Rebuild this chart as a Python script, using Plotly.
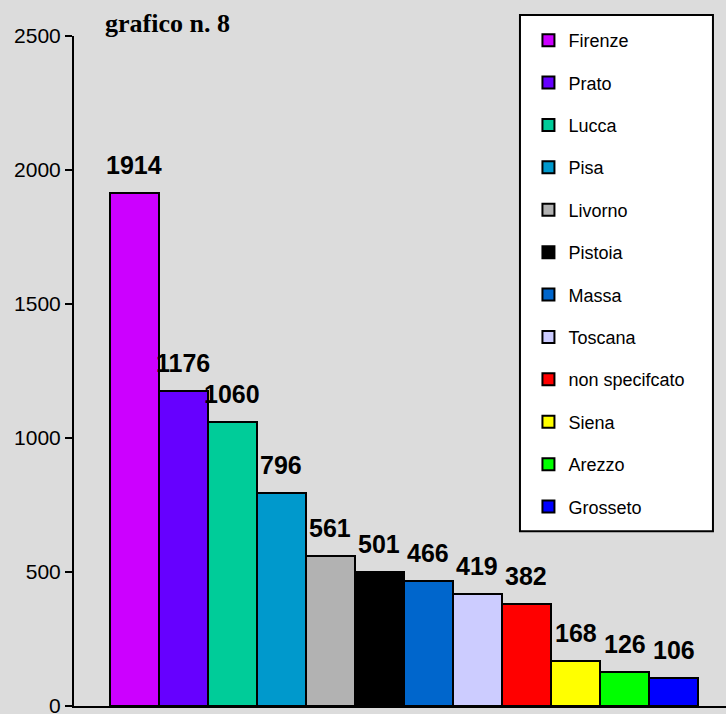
import plotly.graph_objects as go

# ── Data ─────────────────────────────────────────────────────
PROVINCE = ["Firenze", "Prato", "Lucca", "Pisa", "Livorno", "Pistoia",
            "Massa", "Toscana", "non specifcato", "Siena", "Arezzo", "Grosseto"]
VALORI = [1914, 1176, 1060, 796, 561, 501, 466, 419, 382, 168, 126, 106]
COLORI = ["#CC00FF", "#6600FF", "#00CC99", "#0099CC", "#B2B2B2", "#000000",
          "#0066CC", "#CCCCFF", "#FF0000", "#FFFF00", "#00FF00", "#0000FF"]
Y_TICKS = [0, 500, 1000, 1500, 2000, 2500]

BG = "#dcdcdc"
SANS = "Liberation Sans, Arial"

fig = go.Figure()

for nome, val, col in zip(PROVINCE, VALORI, COLORI):
    fig.add_trace(go.Bar(
        x=[nome], y=[val], name=nome, width=1,
        legendgroup=nome,
        marker=dict(color=col, line=dict(color="black", width=2)),
    ))

# value labels above the bars
for nome, val in zip(PROVINCE, VALORI):
    fig.add_annotation(
        x=nome, y=val, text=f"<b>{val}</b>", showarrow=False,
        yanchor="bottom", yshift=12,
        font=dict(family=SANS, size=25, color="black"),
    )

# title
fig.add_annotation(
    xref="paper", yref="paper", x=0.0445, y=1.043,
    xanchor="left", yanchor="top", showarrow=False,
    text="<b>grafico n. 8</b>",
    font=dict(family="Liberation Serif, Times New Roman", size=26, color="black"),
)

# legend box
fig.add_shape(
    type="rect", xref="paper", yref="paper",
    x0=0.684, x1=0.980, y0=0.261, y1=1.0313,
    fillcolor="white", line=dict(color="black", width=2), layer="above",
)

fig.update_layout(
    paper_bgcolor=BG,
    plot_bgcolor=BG,
    width=726, height=714,
    margin=dict(l=74, r=0, t=36, b=8),
    barmode="relative",
    bargap=0,
    showlegend=True,
    legend=dict(
        x=0.697, y=1.021, xanchor="left", yanchor="top",
        bgcolor="rgba(0,0,0,0)", borderwidth=0, maxheight=1.0,
        font=dict(family=SANS, size=18, color="black"),
        tracegroupgap=16, itemwidth=30,
    ),
    xaxis=dict(
        range=[-1.23, 12.07], showticklabels=False, ticks="",
        showline=True, linecolor="black", linewidth=2,
        showgrid=False, zeroline=False, fixedrange=True, automargin=False,
    ),
    yaxis=dict(
        range=[0, 2500], tickvals=Y_TICKS, ticks="outside", ticklen=7,
        tickwidth=2, tickcolor="black",
        showline=True, linecolor="black", linewidth=2,
        showgrid=False, zeroline=False, automargin=False,
        ticklabeloverflow="allow",
        tickfont=dict(family=SANS, size=21, color="black"),
    ),
)

# drop the default page margin so the figure sits at the window's corner
fig.write_html("out.html", config={"displayModeBar": False},
               post_script="document.body.style.margin='0';")
